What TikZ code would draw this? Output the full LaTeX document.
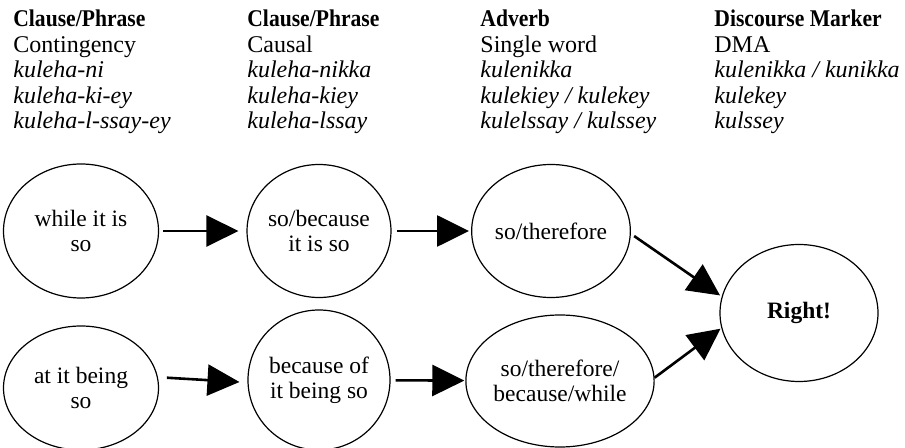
\documentclass[tikz,border=0pt]{standalone}
\usepackage{fontspec}
\setmainfont{Liberation Serif}
\newfontfamily\narrowserif[FakeStretch=0.9]{Liberation Serif}
\usetikzlibrary{shapes.geometric,arrows.meta}
\begin{document}
\begin{tikzpicture}[x=0.5pt,y=-0.5pt,
  bubble/.style={draw, ellipse, line width=0.6pt, inner sep=0pt, align=center,
    font=\fontsize{11.75}{12.5}\selectfont},
  headtxt/.style={font=\narrowserif\fontsize{12}{12}\selectfont\bfseries, anchor=base west, inner sep=0pt},
  plaintxt/.style={font=\fontsize{12}{12}\selectfont, anchor=base west, inner sep=0pt},
  formtxt/.style={font=\fontsize{12}{12}\selectfont\itshape, anchor=base west, inner sep=0pt},
  flow/.style={line width=1.3pt, -{Triangle[length=16pt,width=15.5pt]}}
]
\useasboundingbox (0,0) rectangle (905,448);
\clip (0,0) rectangle (905,448);

% column texts
\node[headtxt]  (a1) at (13,27)    {Clause/Phrase};
\node[plaintxt] (a2) at (13,52.5)  {Contingency};
\node[formtxt]  (a3) at (13,78)    {kuleha-ni};
\node[formtxt]  (a4) at (13,103.5) {kuleha-ki-ey};
\node[formtxt]  (a5) at (13,129)   {kuleha-l-ssay-ey};

\node[headtxt]  (b1) at (247,27)    {Clause/Phrase};
\node[plaintxt] (b2) at (247,52.5)  {Causal};
\node[formtxt]  (b3) at (247,78)    {kuleha-nikka};
\node[formtxt]  (b4) at (247,103.5) {kuleha-kiey};
\node[formtxt]  (b5) at (247,129)   {kuleha-lssay};

\node[headtxt]  (d1) at (480,27)    {Adverb};
\node[plaintxt] (d2) at (480,52.5)  {Single word};
\node[formtxt]  (d3) at (480,78)    {kulenikka};
\node[formtxt]  (d4) at (480,103.5) {kulekiey / kulekey};
\node[formtxt]  (d5) at (480,129)   {kulelssay / kulssey};

\node[headtxt]  (e1) at (714,27)    {Discourse Marker};
\node[plaintxt] (e2) at (714,52.5)  {DMA};
\node[formtxt]  (e3) at (714,78)    {kulenikka / kunikka};
\node[formtxt]  (e4) at (714,103.5) {kulekey};
\node[formtxt]  (e5) at (714,129)   {kulssey};

% bubbles
\node[bubble, minimum width=77.5pt, minimum height=67pt]   (c1) at (81,231)  {while it is\\so};
\node[bubble, minimum width=71pt,   minimum height=66.5pt] (c2) at (319,231) {so/because\\it is so};
\node[bubble, minimum width=71pt,   minimum height=66.5pt] (c5) at (551,231) {so/therefore};
\node[bubble, minimum width=77.5pt, minimum height=62pt]   (c3) at (81,388)  {at it being\\so};
\node[bubble, minimum width=71pt,   minimum height=70pt]   (c4) at (319,380) {because of\\it being so};
\node[bubble, minimum width=70pt,   minimum height=66pt]   (c6) at (560,381) {so/therefore/\\because/while};
\node[bubble, minimum width=79pt,   minimum height=68.5pt] (r)  at (799,313) {\bfseries Right!};

% connectors
\draw[flow, shorten <=1.75pt, shorten >=4pt] (c1) -- (c2);
\draw[flow, shorten <=2.5pt, shorten >=1pt] (c2) -- (c5);
\draw[flow, shorten <=4.5pt, shorten >=4pt] (c3.8) -- (c4.182);
\draw[flow, shorten <=2.5pt, shorten >=0.5pt] (c4) -- (c6);
\draw[flow, shorten <=2pt, shorten >=1pt] (c5.-2) -- (r.168);
\draw[flow, shorten <=0pt, shorten >=0.5pt] (c6.2) -- (r.191);
\end{tikzpicture}
\end{document}
